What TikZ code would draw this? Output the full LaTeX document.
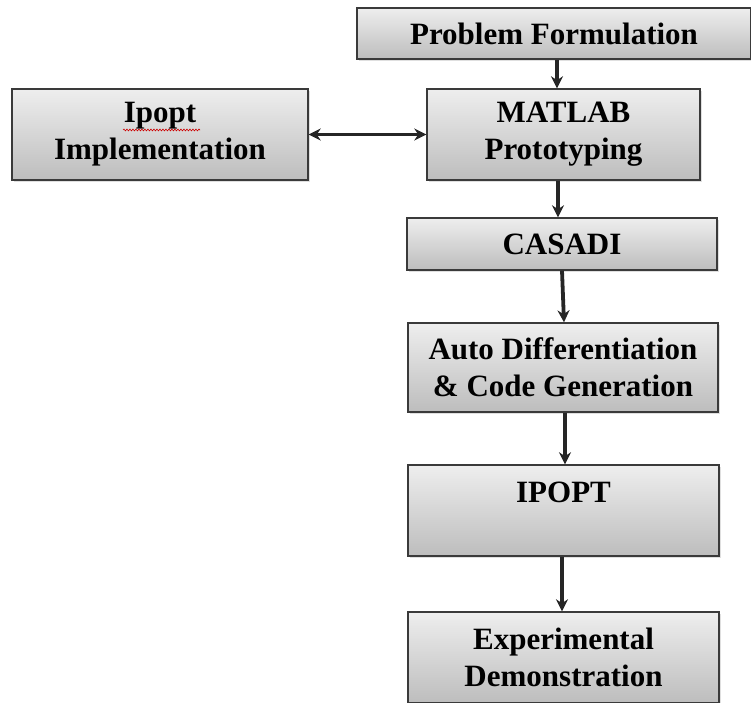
\documentclass[tikz,border=0pt]{standalone}
\usepackage{fontspec}
\setmainfont{Liberation Serif}
\usetikzlibrary{arrows.meta,shadows,calc,decorations.pathmorphing}
\definecolor{boxtop}{HTML}{EEEEEE}
\definecolor{boxbot}{HTML}{BDBDBD}
\definecolor{boxline}{HTML}{3A3A3A}
\definecolor{arrcol}{HTML}{262626}
\tikzset{
  box/.style={draw=boxline, line width=1.4pt, top color=boxtop, bottom color=boxbot,
    font=\bfseries\fontsize{31}{37}\selectfont, text=black, align=center, inner sep=0pt,
    drop shadow={opacity=0.25, shadow xshift=2pt, shadow yshift=-2pt}},
  arr/.style={draw=arrcol, line width=3.8pt, -{Stealth[length=12pt,width=12pt]}},
  darr/.style={draw=arrcol, line width=3.8pt, {Stealth[length=12pt,width=12pt]}-{Stealth[length=12pt,width=12pt]}}
}
\begin{document}
\begin{tikzpicture}[x=1pt,y=1pt]
\useasboundingbox (0,0) rectangle (751,702);
\node[box, minimum width=394pt, minimum height=51pt] (pf) at (554,668.5) {Problem Formulation};
\node[box, minimum width=273pt, minimum height=91pt] (mat) at (563.5,567.5) {MATLAB\\Prototyping};
\node[box, minimum width=296pt, minimum height=91pt] (impl) at (160,567.5) {Ipopt\\Implementation};
\node[box, minimum width=310pt, minimum height=52pt] (cas) at (562,458) {CASADI};
\node[box, minimum width=310pt, minimum height=89pt] (auto) at (563,334.5) {Auto Differentiation\\\& Code Generation};
\node[box, minimum width=311pt, minimum height=91pt] (ipopt) at (563.5,191.5) {IPOPT\\~};
\node[box, minimum width=311pt, minimum height=91pt] (exp) at (563.5,44.5) {Experimental\\Demonstration};
\coordinate (sq1) at (123,572);
\coordinate (sq2) at (200,572);
\draw[red!80!black, line width=0.6pt, decorate, decoration={snake, amplitude=0.9pt, segment length=3pt}] (sq1) -- (sq2);
\draw[arr] ([xshift=3pt]pf.south) -- ([xshift=3pt]pf.south |- mat.north);
\draw[darr] (impl.east) -- (mat.west);
\draw[arr] ([xshift=-5.5pt]mat.south) -- ([xshift=-5.5pt]mat.south |- cas.north);
\draw[arr] (cas.south) -- ([xshift=1pt]auto.north);
\draw[arr] ([xshift=2pt]auto.south) -- ([xshift=2pt]auto.south |- ipopt.north);
\draw[arr] ([xshift=-1.5pt]ipopt.south) -- ([xshift=-1.5pt]ipopt.south |- exp.north);
\end{tikzpicture}
\end{document}
